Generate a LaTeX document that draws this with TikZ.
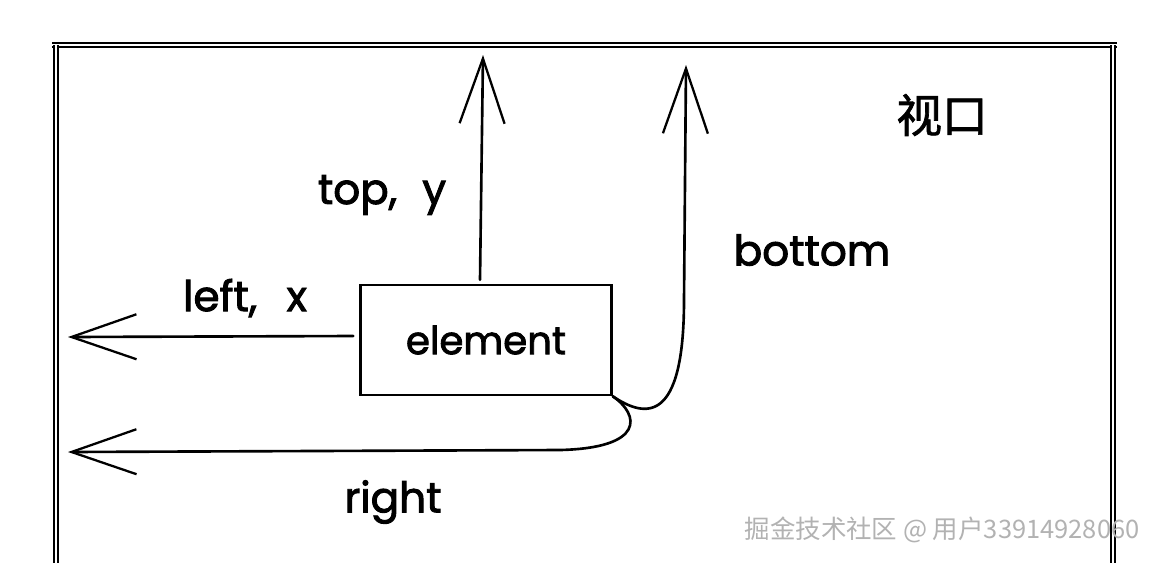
\documentclass[tikz,border=0pt]{standalone}
\usepackage{fontspec}
\setmainfont{Poppins}
\newfontfamily\hand{Poppins}[FakeBold=2.2]
\newfontfamily\cjk{Noto Sans CJK SC}
\newfontfamily\cjkbold{Noto Sans CJK SC}[FakeBold=1.5]
\usetikzlibrary{arrows.meta,positioning}

\tikzset{
    sketch/.style={black, line width=1.5pt, line cap=round},
    frameline/.style={black, line width=0.9pt, double, double distance=1.6pt},
    barb/.style={-{Straight Barb[length=13mm, width=9mm, line width=1.3pt]}},
    label/.style={font=\hand\fontsize{24}{28}\selectfont, inner sep=1pt},
}

\begin{document}
\begin{tikzpicture}[x=0.02cm, y=-0.02cm]
    \useasboundingbox (0,0) rectangle (1155,562);

    % Viewport frame
    \draw[frameline] (52,45) -- (1117,45);
    \draw[frameline] (56,45) -- (56,575);
    \draw[frameline] (1113,45) -- (1113,575);
    \node[font=\cjkbold\fontsize{26}{30}\selectfont] (vp) at (942,115) {视口};

    % Element box
    \node[draw, sketch, minimum width=5.02cm, minimum height=2.2cm,
          label, font=\hand\fontsize{22}{26}\selectfont] (elem) at (486,340) {element};

    % Free ends of the arrows
    \coordinate (topend) at (483,55);
    \coordinate (leftend) at (68,337);
    \coordinate (bottomend) at (686,65);
    \coordinate (rightend) at (68,452);

    % Arrows
    \draw[sketch, barb] (elem.north) ++(-6,-4) coordinate (topstart) -- (topend);
    \draw[sketch, barb] (elem.west) ++(-6,-4) coordinate (leftstart) -- (leftend);
    \draw[sketch, barb] (elem.south east) .. controls (645,418) and (684,425)
        .. (684,300) -- (bottomend);
    \draw[sketch, barb] (elem.south east) .. controls (640,415) and (645,448)
        .. (560,450) -- (rightend);

    % Labels
    \node[label] (toplbl) at (382,195) {top,\hspace{0.6em}y};
    \node[label] (leftlbl) at (245,298) {left,\hspace{0.7em}x};
    \node[label] (bottomlbl) at (812,250) {bottom};
    \node[label] (rightlbl) at (393,502) {right};

    % Watermark
    \node[font=\cjk\fontsize{14.5}{18}\selectfont, text=gray!60] (wm) at (942,530)
        {掘金技术社区 @ 用户33914928060};
\end{tikzpicture}
\end{document}
